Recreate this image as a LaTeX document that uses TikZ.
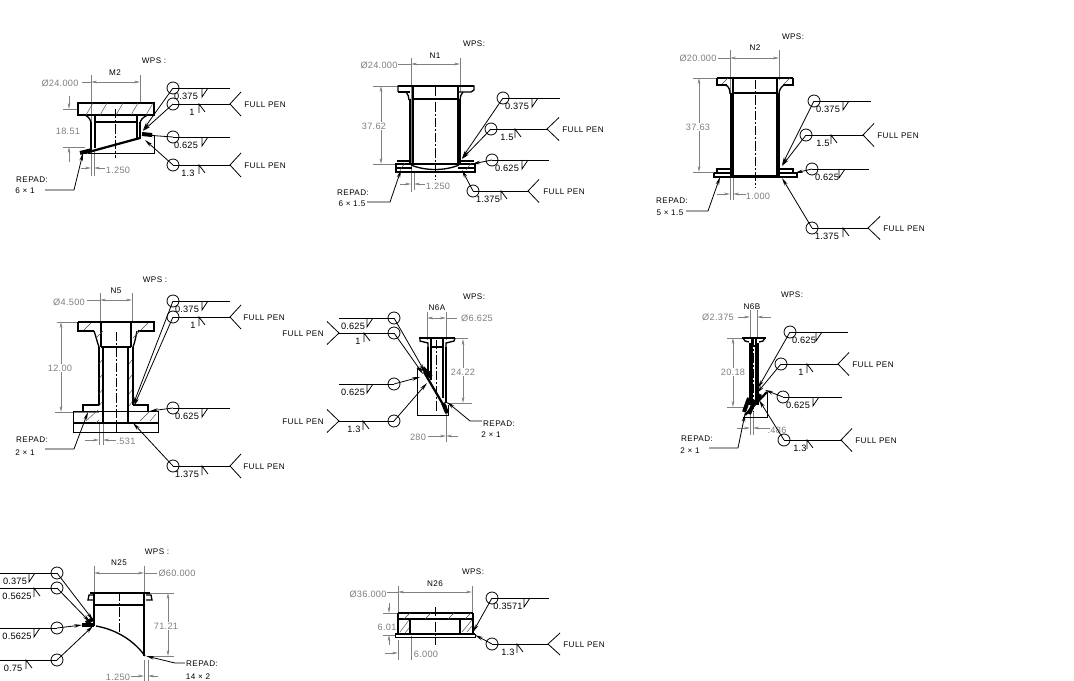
\documentclass[tikz,border=0pt]{standalone}
\usepackage{fontspec}
\setmainfont{Liberation Sans}
\usetikzlibrary{arrows.meta}
\definecolor{dg}{gray}{0.5}
\newcommand\lsfont{\fontsize{6.1}{7}\selectfont\addfontfeature{LetterSpace=5}}
\newcommand\nfont{\fontsize{6.9}{8}\selectfont\addfontfeature{LetterSpace=2}}
\newcommand\gfont{\fontsize{6.9}{8}\selectfont\addfontfeature{LetterSpace=3}}
\tikzset{
  x=0.75pt,y=-0.75pt,
  pt/.style={line width=1pt,black},
  ptk/.style={line width=1.7pt,black},
  blob/.style={line width=3pt,black},
  tn/.style={line width=0.6pt,black},
  ht/.style={line width=0.35pt,black!70},
  dm/.style={line width=0.5pt,dg},
  da/.style={dm,arrows={Stealth[length=4.5pt,width=2pt]-Stealth[length=4.5pt,width=2pt]}},
  dr/.style={dm,-{Stealth[length=4.5pt,width=2pt]}},
  cl/.style={line width=0.5pt,black,dash pattern=on 7pt off 1.5pt on 1.5pt off 1.5pt},
  ldr/.style={tn,-{Stealth[length=6pt,width=2.6pt]}},
  wcirc/.style={circle,draw,line width=0.6pt,inner sep=0pt,minimum size=9pt},
  lab/.style={inner sep=0pt,font=\nfont},
  glab/.style={inner sep=0pt,font=\gfont,text=dg},
  pen/.style={inner sep=0pt,font=\lsfont},
}
% circle, leader to named tip
\newcommand\wc[5]{\def\curY{#3}\def\curN{#1}
  \node[wcirc] (#1) at (#2,#3) {};
  \coordinate (#1-tip) at (#4,#5);
  \draw[ldr] (#1.center) -- (#1-tip);}
% reference line and label: end x, label x, label, symbol x, symbol type
\newcommand\wl[5]{
  \coordinate (\curN-end) at (#1,\curY);
  \draw[tn] (\curN.center) -- (\curN-end);
  \node[lab] (\curN-lab) at (#2,\curY+8.5) {#3};
  \ifnum#5=0
    \draw[tn] (#4,\curY) -- (#4,\curY+9) -- (#4+6,\curY);
  \else
    \draw[tn] (#4,\curY+9) -- (#4,\curY) -- (#4+6,\curY+8);
  \fi}
% fork with FULL PEN: fork x, half-spread, text x
\newcommand\wpen[3]{
  \coordinate (\curN-fa) at (#1,\curY-#2);
  \coordinate (\curN-fb) at (#1,\curY+#2);
  \draw[tn] (\curN-fa) -- (\curN-end) -- (\curN-fb);
  \node[pen] (\curN-pen) at (#3,\curY+1) {FULL PEN};}
% repad note
\newcommand\repad[8]{
  \node[pen] (#1-a) at (#2,#3) {REPAD:};
  \node[pen] (#1-b) at (#4,#5) {#6};
  \coordinate (#1-t) at (#7,#8);}
\begin{document}
\begin{tikzpicture}
\useasboundingbox (0,0) rectangle (1074,681);
\fill[white] (0,0) rectangle (1074,681);

% ---------- M2 ----------
\node[pen] (wpsa) at (154,61) {WPS :};
\node[pen] (ma) at (115,73) {M2};
\node[glab] (da1) at (60,83) {Ø24.000};
\draw[dm] (91,75)--(91,176) (140,75)--(140,103) (82,82)--(91,82);
\draw[da] (91,82)--(140,82);
\draw[dm] (63,109)--(78,109) (63,147)--(85,147);
\draw[dr] (69,96)--(69,109); \draw[dr] (69,162)--(69,147);
\node[glab] (da2) at (68,131) {18.51};
\draw[dm] (94,150)--(94,176);
\draw[dr] (81,168)--(91,168); \draw[dr] (105,168)--(94,168);
\node[glab] (da3) at (118,170) {1.250};
\draw[pt] (78,103) rectangle (154,115);
\foreach \x in {86,100,116,131,146} \draw[ht] (\x,115)--(\x+7,103);
\draw[pt] (85,115) .. controls (89,117) and (91,120) .. (91,124);
\draw[pt] (148,115) .. controls (143,117) and (140,120) .. (140,124);
\draw[ptk] (91,122)--(91,149) (140,122)--(140,139);
\draw[pt] (95,115)--(95,148) (137,115)--(137,139) (95,122)--(137,122);
\draw[ptk] (85,153)--(140,138);
\draw[tn] (88,153)--(154,153)--(154,135);
\draw[blob] (80,153)--(92,150) (142,134)--(152,135);
\draw[cl] (115,109)--(115,158);
\repad{ra}{32}{180}{25}{190.5}{6 × 1}{83}{153}
\coordinate (ra-k) at (74,190);\coordinate (ra-s) at (45,190);
\draw[ldr] (ra-s)--(ra-k)--(ra-t);
\wc{a1}{173}{88}{143}{130}\wl{230}{186}{0.375}{202}{0}
\wc{a2}{173}{104}{143}{131}\wl{230}{192}{1}{199}{1}\wpen{241}{12}{265}
\wc{a3}{173}{137}{145}{135}\wl{230}{186}{0.625}{202}{0}
\wc{a4}{173}{165}{145}{140}\wl{230}{188}{1.3}{199}{1}\wpen{241}{12}{265}

% ---------- N1 ----------
\node[pen] (wpsb) at (474,44) {WPS:};
\node[pen] (mb) at (435,56) {N1};
\node[glab] (db1) at (379,65) {Ø24.000};
\draw[dm] (411,58)--(411,192) (460,58)--(460,92) (398,64)--(411,64);
\draw[da] (411,64)--(460,64);
\draw[dm] (373,164)--(409,164) (373,86)--(398,86);
\draw[da] (381,86)--(381,164);
\node[glab,fill=white,inner sep=0.5pt] (db2) at (374,126) {37.62};
\draw[dm] (414,172)--(414,190);
\draw[dr] (400,184)--(411,184); \draw[dr] (425,184)--(414,184);
\node[glab] (db3) at (438,186) {1.250};
\draw[pt] (398,92)--(398,86)--(474,86)--(474,90)--(471,92)--(459,92);
\draw[pt] (398,92)--(410,92);
\draw[ptk] (398,86)--(474,86);
\draw[pt] (406,92) .. controls (408,94) and (409,97) .. (409,100);
\draw[pt] (463,92) .. controls (461,94) and (460,97) .. (460,100);
\draw[ptk] (410,99)--(410,165) (460,99)--(460,165);
\draw[pt] (413,86)--(413,165) (458,86)--(458,165) (413,99)--(458,99);
\draw[pt] (397,161)--(410,161) (460,161)--(474,161);
\draw[pt] (396,164) rectangle (475,172);
\draw[ptk] (396,168)--(412,168) (458,168)--(475,168);
\draw[pt] (411,165) .. controls (425,171) and (445,171) .. (459,165);
\draw[ht] (400,170)--(405,163) (466,170)--(471,163);
\draw[cl] (435,87)--(435,180);
\repad{rb}{353}{193}{352}{204}{6 × 1.5}{401}{170}
\coordinate (rb-k) at (390,202);\coordinate (rb-s) at (367,202);
\draw[ldr] (rb-s)--(rb-k)--(rb-t);
\wc{b1}{503}{98}{462}{158}\wl{560}{517}{0.375}{532}{0}
\wc{b2}{491}{129}{462}{159}\wl{547}{507}{1.5}{515}{1}\wpen{559}{11.5}{583}
\wc{b3}{492}{160}{472}{164}\wl{549}{507}{0.625}{522}{0}
\wc{b4}{473}{191}{462}{170}\wl{528}{488}{1.375}{501}{1}\wpen{539}{11.5}{564}

% ---------- N2 ----------
\node[pen] (wpsc) at (793,37) {WPS:};
\node[pen] (mc) at (755,48) {N2};
\node[glab] (dc1) at (698,58) {Ø20.000};
\draw[dm] (730,50)--(730,200) (779,50)--(779,80) (718,58)--(730,58);
\draw[da] (730,58)--(779,58);
\draw[dm] (693,78)--(717,78) (693,172)--(730,172);
\draw[da] (699,78)--(699,172);
\node[glab,fill=white,inner sep=0.5pt] (dc2) at (698,127) {37.63};
\draw[dm] (733,178)--(733,200);
\draw[dr] (717,194)--(730,194); \draw[dr] (746,194)--(733,194);
\node[glab] (dc3) at (758,196) {1.000};
\draw[ptk] (717,78)--(793,78);
\draw[pt] (717,78)--(717,85)--(727,85) (793,78)--(793,85)--(783,85);
\draw[pt] (726,85) .. controls (729,87) and (730,90) .. (730,94);
\draw[pt] (784,85) .. controls (781,87) and (779,90) .. (779,94);
\draw[line width=2.2pt] (731,93)--(731,176);
\draw[ptk] (779,93)--(779,176);
\draw[pt] (733,78)--(733,176) (777,78)--(777,176) (733,93)--(777,93);
\draw[ht] (722,84)--(728,78) (784,84)--(790,78);
\draw[pt] (717,173)--(717,169)--(730,169) (780,169)--(793,169)--(793,173);
\draw[pt] (714,173)--(730,173) (780,173)--(797,173);
\draw[pt] (714,173) -- (714,177) -- (797,177) -- (797,173);
\draw[ptk] (731,176)--(780,176);
\draw[cl] (755,80)--(755,188);
\repad{rc}{672}{201}{670}{213}{5 × 1.5}{720}{177}
\coordinate (rc-k) at (708,211);\coordinate (rc-s) at (686,211);
\draw[ldr] (rc-s)--(rc-k)--(rc-t);
\wc{c1}{814}{101}{782}{165}\wl{871}{828}{0.375}{843}{0}
\wc{c2}{806}{135}{782}{166}\wl{863}{823}{1.5}{831}{1}\wpen{874}{11.5}{898}
\wc{c3}{812}{169}{795}{173}\wl{869}{827}{0.625}{839}{0}
\wc{c4}{812}{228}{782}{178}\wl{868}{827}{1.375}{843}{1}\wpen{880}{11.5}{904}

% ---------- N5 ----------
\node[pen] (wpsd) at (155,280) {WPS :};
\node[pen] (md) at (116,291) {N5};
\node[glab] (dd1) at (69,302) {Ø4.500};
\draw[dm] (100,293)--(100,322) (132,293)--(132,322) (87,300)--(100,300);
\draw[da] (100,300)--(132,300);
\draw[dm] (57,322)--(78,322) (55,412)--(99,412);
\draw[da] (61,322)--(61,412);
\node[glab,fill=white,inner sep=0.5pt] (dd2) at (60,368) {12.00};
\draw[dm] (99,424)--(99,445) (103,424)--(103,445);
\draw[dr] (85,440)--(99,440); \draw[dr] (116,440)--(103,440);
\node[glab] (dd3) at (126,441) {.531};
\draw[pt] (78,322)--(154,322)--(154,331)--(138,331);
\draw[pt] (78,322)--(78,331)--(94,331);
\draw[pt] (94,331) .. controls (96,336) and (97,342) .. (99,347);
\draw[pt] (137,331) .. controls (136,336) and (135,342) .. (133,347);
\draw[ptk] (99,347)--(99,405) (133,347)--(133,405);
\draw[pt] (101,322)--(101,347) (131,322)--(131,347);
\draw[ptk] (103,347)--(103,423) (128,347)--(128,423) (101,347)--(131,347);
\foreach \x/\y in {84/330,141/330,96/338,133/338} \draw[ht] (\x,\y)--(\x+7,\y-7);
\foreach \y in {360,375,390,402} \draw[ht] (99,\y+4)--(102,\y) (129,\y+4)--(132,\y);
\draw[pt] (83,411)--(83,405)--(99,405) (133,405)--(148,405)--(148,411);
\draw[tn] (73,411)--(158,411)--(158,432)--(73,432)--cycle;
\draw[ptk] (73,423)--(158,423);
\draw[ht] (86,421)--(98,410) (96,423)--(99,420) (140,421)--(150,411) (150,421)--(156,414);
\draw[cl] (116,332)--(116,432);
\repad{rd}{32}{440}{25}{453}{2 × 1}{88}{412}
\coordinate (rd-k) at (74,449);\coordinate (rd-s) at (45,449);
\draw[ldr] (rd-s)--(rd-k)--(rd-t);
\wc{d1}{173}{301}{133}{405}\wl{230}{187}{0.375}{202}{0}
\wc{d2}{173}{317}{134}{406}\wl{230}{193}{1}{199}{1}\wpen{241}{12}{264}
\wc{d3}{173}{408}{150}{411}\wl{230}{187}{0.625}{202}{0}
\wc{d4}{173}{466}{133}{423}\wl{230}{187}{1.375}{202}{1}\wpen{241}{12}{264}

% ---------- N6A ----------
\node[pen] (wpse) at (474,297) {WPS:};
\node[pen] (me) at (437,308) {N6A};
\node[glab] (de1) at (477,318) {Ø6.625};
\draw[dm] (427,312)--(427,340) (446,312)--(446,340) (446,318)--(457,318);
\draw[da] (427,318)--(446,318);
\draw[dm] (455,338)--(468,338) (447,403)--(472,403);
\draw[da] (463,339)--(463,403);
\node[glab,fill=white,inner sep=0.5pt] (de2) at (463,372) {24.22};
\draw[dm] (446,405)--(446,442);
\draw[dr] (428,436)--(446,436); \draw[dr] (458,436)--(446,436);
\node[glab] (de3) at (418,437) {280};
\draw[ptk] (419,338)--(455,338);
\draw[pt] (420,338)--(420,341)--(428,343)--(428,347) (455,338)--(454,341)--(446,343)--(446,347);
\draw[ptk] (428,347)--(428,375) (446,347)--(446,403);
\draw[pt] (431,338)--(431,347)--(443,347)--(443,338) (431,347)--(431,380) (443,347)--(443,398);
\draw[tn] (417,368)--(417,415)--(448,415)--(448,405);
\draw[pt] (417,368)--(430,372);
\draw[ptk] (424,372)--(448,413);
\draw[blob] (443,403)--(447,413) (423,368)--(431,377);
\draw[cl] (436,340)--(436,412);
\repad{re}{499}{424}{491}{435}{2 × 1}{447}{402}
\coordinate (re-k) at (470,421);\coordinate (re-s) at (482,421);
\draw[ldr] (re-s)--(re-k)--(re-t);
\wc{e1}{394}{318}{425}{372}\wl{339}{353}{0.625}{367}{0}
\wc{e2}{394}{333}{423}{374}\wl{339}{358}{1}{364}{1}\wpen{327}{11.5}{303}
\wc{e3}{394}{384}{420}{377}\wl{339}{353}{0.625}{367}{0}
\wc{e4}{394}{421}{427}{383}\wl{339}{354}{1.3}{363}{1}\wpen{327}{11.5}{303}

% ---------- N6B ----------
\node[pen] (wpsf) at (792,295) {WPS:};
\node[pen] (mf) at (752,307) {N6B};
\node[glab] (df1) at (718,317) {Ø2.375};
\draw[dm] (750,310)--(750,338) (757,310)--(757,338);
\draw[dr] (738,317)--(750,317); \draw[dr] (771,317)--(757,317);
\draw[dm] (727,338)--(742,338) (727,407)--(748,407);
\draw[da] (733,338)--(733,407);
\node[glab,fill=white,inner sep=0.5pt] (df2) at (733,372) {20.18};
\draw[dm] (750,412)--(750,435) (753,412)--(753,435);
\draw[dr] (737,428)--(750,428); \draw[dr] (770,428)--(753,428);
\node[glab] (df3) at (777,430) {.486};
\draw[ptk] (742,338)--(766,338);
\draw[pt] (743,338)--(745,341)--(749,342) (765,338)--(763,341)--(759,342);
\draw[line width=3pt] (750.5,343)--(750.5,405) (756.5,343)--(756.5,405);
\draw[pt] (752,338)--(752,346) (756,338)--(756,346) (752,346)--(756,346);
\draw[tn] (767,392)--(767,417)--(743,417);
\draw[ptk] (767,392)--(745,415);
\draw[blob] (749,398)--(744,412) (755,400)--(749,414) (760,394)--(757,401);
\draw[cl] (753,338)--(753,412);
\repad{rf}{697}{439}{690}{451}{2 × 1}{745}{414}
\coordinate (rf-k) at (738,448);\coordinate (rf-s) at (709,448);
\draw[ldr] (rf-s)--(rf-k)--(rf-t);
\wc{f1}{790}{332}{758}{388}\wl{848}{804}{0.625}{816}{0}
\wc{f2}{781}{364}{757}{393}\wl{838}{801}{1}{807}{1}\wpen{849}{11.5}{873}
\wc{f3}{783}{397}{765}{390}\wl{842}{798}{0.625}{813}{0}
\wc{f4}{784}{440}{759}{400}\wl{841}{800}{1.3}{807}{1}\wpen{852}{11.5}{876}

% ---------- N25 ----------
\node[pen] (wpsg) at (157,552) {WPS :};
\node[pen] (mg) at (119,563) {N25};
\node[glab] (dg1) at (177,573) {Ø60.000};
\draw[dm] (94,566)--(94,593) (144,566)--(144,593) (144,573)--(157,573);
\draw[da] (94,573)--(144,573);
\draw[dm] (146,593)--(174,593) (147,656)--(174,656);
\draw[da] (168,593)--(168,656);
\node[glab,fill=white,inner sep=0.5pt] (dg2) at (166,626) {71.21};
\draw[dm] (144,660)--(144,681) (148,660)--(148,681);
\draw[dr] (131,676)--(144,676); \draw[dr] (158,676)--(148,676);
\node[glab] (dg3) at (118,677) {1.250};
\draw[ptk] (90,593)--(150,593);
\draw[pt] (94,595)--(89,595)--(88,600)--(93,600) (146,595)--(151,595)--(152,600)--(146,600);
\draw[ptk] (94,593)--(94,626) (144,593)--(144,656);
\draw[ptk] (94,605)--(144,605);
\draw[pt] (96,626) .. controls (113,629) and (132,638) .. (145,656);
\draw[blob] (82,625)--(94,625);
\draw[blob] (86,623)--(93,619);
\draw[cl] (119,592)--(119,633);
\repad{rg}{202}{664}{198}{677}{14 × 2}{146}{656}
\coordinate (rg-k) at (175,663);\coordinate (rg-s) at (185,663);
\draw[ldr] (rg-s)--(rg-k)--(rg-t);
\wc{g1}{57}{573}{93}{620}\wl{0}{15}{0.375}{29}{0}
\wc{g2}{57}{588}{90}{622}\wl{0}{17}{0.5625}{34}{1}
\wc{g3}{57}{628}{82}{625}\wl{0}{17}{0.5625}{34}{0}
\wc{g4}{57}{660}{93}{626}\wl{0}{13}{0.75}{26}{1}

% ---------- N26 ----------
\node[pen] (wpsh) at (473,572) {WPS:};
\node[pen] (mh) at (435,584) {N26};
\node[glab] (dh1) at (368,594) {Ø36.000};
\draw[dm] (398,586)--(398,613) (472,586)--(472,613) (387,592)--(398,592);
\draw[da] (398,592)--(472,592);
\draw[dm] (383,613)--(398,613) (383,635)--(395,635);
\draw[dr] (389,603)--(389,613); \draw[dr] (389,645)--(389,635);
\node[glab,fill=white,inner sep=0.5pt] (dh2) at (387,627) {6.01};
\draw[dm] (398,640)--(398,660) (411,636)--(411,660);
\draw[dr] (385,653)--(398,653);
\node[glab] (dh3) at (426,654) {6.000};
\draw[pt] (398,613)--(473,613);
\draw[pt] (398,619) -- (473,619);
\draw[pt] (398,613)--(398,633) (473,613)--(473,633);
\draw[pt] (410,619)--(410,633) (460,619)--(460,633);
\draw[ptk] (395,634)--(475,634);
\draw[tn] (395,634)--(395,637)--(475,637)--(475,634);
\foreach \x in {404,425,448,465} \draw[ht] (\x,619)--(\x+6,613);
\draw[ht] (400,632)--(409,620) (405,633)--(409,628) (462,632)--(472,620) (467,632)--(472,626);
\draw[cl] (435,607)--(435,645);
\wc{h1}{492}{598}{473}{632}\wl{549}{508}{0.3571}{524}{0}
\wc{h2}{492}{644}{475}{635}\wl{548}{508}{1.3}{517}{1}\wpen{560}{11}{584}
\end{tikzpicture}
\end{document}
